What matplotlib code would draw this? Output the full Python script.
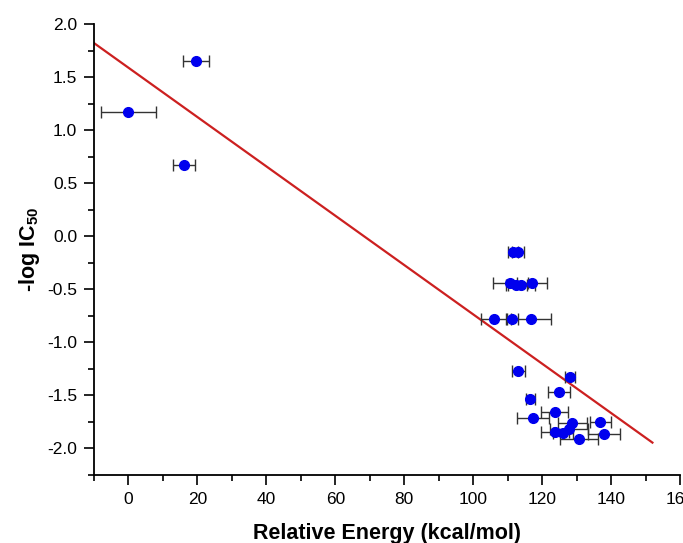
import numpy as np
import matplotlib
matplotlib.use("Agg")
import matplotlib.pyplot as plt
from matplotlib.ticker import MultipleLocator

plt.rcParams['font.family'] = ['Liberation Sans', 'DejaVu Sans']
plt.rcParams['mathtext.fontset'] = 'custom'
plt.rcParams['mathtext.rm'] = 'Liberation Sans'
plt.rcParams['mathtext.bf'] = 'Liberation Sans:bold'

# relative energy (kcal/mol), its error, and -log IC50
energy = [19.6, 0.0, 16.1,
          111.5, 113.0,
          110.8, 112.5, 114.0, 117.0,
          106.0, 111.2, 116.7,
          113.1, 128.0, 125.0, 116.5, 123.7, 117.3,
          128.8, 136.9, 123.8, 126.1, 127.7, 138.0, 130.7]
energy_err = [3.8, 8.0, 3.3,
              1.5, 1.8,
              5.0, 3.0, 4.0, 4.3,
              3.7, 1.7, 5.8,
              1.8, 1.5, 3.2, 1.3, 3.9, 4.6,
              4.3, 3.1, 4.0, 3.0, 5.5, 4.6, 5.4]
log_ic50 = [1.65, 1.17, 0.67,
            -0.15, -0.15,
            -0.44, -0.46, -0.46, -0.44,
            -0.78, -0.78, -0.78,
            -1.27, -1.33, -1.47, -1.53, -1.66, -1.71,
            -1.76, -1.75, -1.84, -1.85, -1.82, -1.86, -1.91]

# linear fit
fit_slope = -0.02324
fit_intercept = 1.588
fit_range = [-10, 152]

fig = plt.figure(figsize=(6.83, 5.43), dpi=100)
ax = fig.add_axes([0.1376, 0.1252, 0.858, 0.8306])

fit_x = np.array(fit_range)
ax.plot(fit_x, fit_slope * fit_x + fit_intercept, color='#cc2020', lw=1.6, zorder=2)

ax.errorbar(energy, log_ic50, xerr=energy_err, fmt='o', color='#0000ee',
            ecolor='#333333', elinewidth=1.0, capsize=4, capthick=1.0,
            markersize=7, zorder=3)

ax.set_xlim(-10, 160)
ax.set_ylim(-2.25, 2.0)
ax.xaxis.set_major_locator(MultipleLocator(20))
ax.xaxis.set_minor_locator(MultipleLocator(10))
ax.yaxis.set_major_locator(MultipleLocator(0.5))
ax.yaxis.set_minor_locator(MultipleLocator(0.25))
ax.yaxis.set_major_formatter(matplotlib.ticker.FormatStrFormatter('%.1f'))

for side in ['top', 'right']:
    ax.spines[side].set_visible(False)
for side in ['left', 'bottom']:
    ax.spines[side].set_linewidth(1.3)

ax.tick_params(which='major', direction='out', length=7, width=1.2, labelsize=12.5, pad=5)
ax.tick_params(which='minor', direction='out', length=4, width=1.2)

ax.set_xlabel('Relative Energy (kcal/mol)', fontsize=15.5, fontweight='bold', labelpad=12)
ax.set_ylabel(r'-log IC$_{\mathbf{50}}$', fontsize=15.5, fontweight='bold', labelpad=4)

fig.savefig('out.png', dpi=100)
